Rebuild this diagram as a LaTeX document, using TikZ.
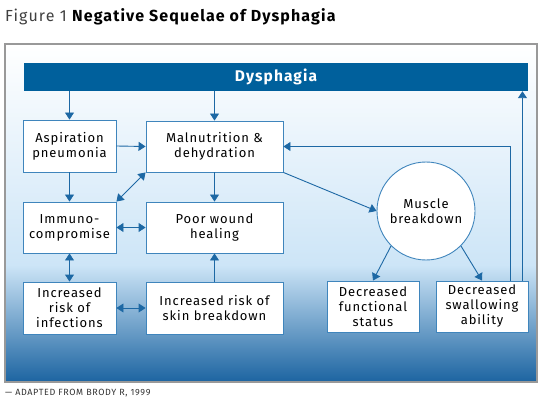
\documentclass[tikz,border=0pt]{standalone}
\usepackage{fontspec}
\setmainfont{Fira Sans}[LetterSpace=7]
\usepackage{xcolor}
\usetikzlibrary{arrows.meta, positioning}

\definecolor{barblue}{HTML}{00609C}
\definecolor{lineblue}{HTML}{1D68A4}
\definecolor{edgeblue}{HTML}{3F85BC}
\definecolor{paleblue}{HTML}{CDE5F7}
\definecolor{deepblue}{HTML}{1C64A1}

\begin{document}
\begin{tikzpicture}[
  x=1pt, y=-1pt,
  box/.style={draw=edgeblue,fill=white,line width=0.9pt,align=center,
              inner sep=2pt,font=\fontsize{13}{15}\selectfont},
  link/.style={-{Triangle[width=9pt,length=7pt]},draw=lineblue,line width=0.9pt},
  dlink/.style={{Triangle[width=9pt,length=7pt]}-{Triangle[width=9pt,length=7pt]},
                draw=lineblue,line width=0.9pt}
]
  \useasboundingbox (0,0) rectangle (550,404);

  % background frame
  \shade[top color=white,bottom color=paleblue] (5,44) rectangle (537,265);
  \shade[top color=paleblue,bottom color=deepblue] (5,265) rectangle (537,382);
  \draw[gray!80,line width=1.2pt] (5,44) rectangle (537,382);

  % title and source
  \node[anchor=west,inner sep=0pt,font=\fontsize{16}{18}\selectfont] (title) at (5,17)
       {\textcolor{black!75}{Figure 1} \textbf{Negative Sequelae of Dysphagia}};
  \node[anchor=west,inner sep=0pt,font=\fontsize{9}{10}\selectfont,text=black!80] (src) at (5,393)
       {--- ADAPTED FROM BRODY R, 1999};

  % nodes
  \node[fill=barblue,text=white,minimum width=504pt,minimum height=28pt,inner sep=0pt,
        font=\fontsize{15.5}{17}\selectfont\bfseries] (dys) at (276,77) {Dysphagia};
  \node[box,minimum width=93pt,minimum height=52pt] (asp) at (69.5,146) {Aspiration\\pneumonia};
  \node[box,minimum width=137pt,minimum height=51pt] (mal) at (214.5,146.5) {Malnutrition \&\\dehydration};
  \node[box,minimum width=93pt,minimum height=51pt] (imm) at (69.5,227.5) {Immuno-\\compromise};
  \node[box,minimum width=137pt,minimum height=51pt] (wound) at (214.5,227.5) {Poor wound\\healing};
  \node[box,minimum width=93pt,minimum height=52pt] (inf) at (69.5,308) {Increased\\risk of\\infections};
  \node[box,minimum width=137pt,minimum height=52pt] (skin) at (214.5,308) {Increased risk of\\skin breakdown};
  \node[box,circle,minimum size=98pt,inner sep=0pt] (muscle) at (426,211) {Muscle\\breakdown};
  \node[box,minimum width=92pt,minimum height=51pt,inner sep=0pt] (func) at (373,306.5) {Decreased\\functional\\status};
  \node[box,minimum width=92pt,minimum height=51pt,inner sep=0pt] (swal) at (482,306.5) {Decreased\\swallowing\\ability};

  % connectors
  \draw[link] (asp.north |- dys.south) -- (asp.north);
  \draw[link] (mal.north |- dys.south) -- (mal.north);
  \draw[link] (asp.east) -- (mal.west);
  \draw[link] (asp.south) -- (imm.north);
  \draw[dlink] (imm.north east) -- (mal.south west);
  \draw[link] (mal.south) -- (wound.north);
  \draw[dlink] (imm.east) -- (wound.west);
  \draw[dlink] (imm.south) -- (inf.north);
  \draw[dlink] (inf.east) -- (skin.west);
  \draw[link] (skin.north) -- (wound.south);
  \draw[link] (mal.south east) -- (muscle.west);
  \draw[link] (muscle.225) -- (func.north);
  \draw[link] (muscle.-45) -- (swal.north);
  % feedback loops
  \draw[link] ([xshift=-18pt]swal.north east) |- (mal.east);
  \draw[link] ([xshift=-6pt]swal.north east) -- ([xshift=-6pt]swal.north east |- dys.south);
\end{tikzpicture}
\end{document}
